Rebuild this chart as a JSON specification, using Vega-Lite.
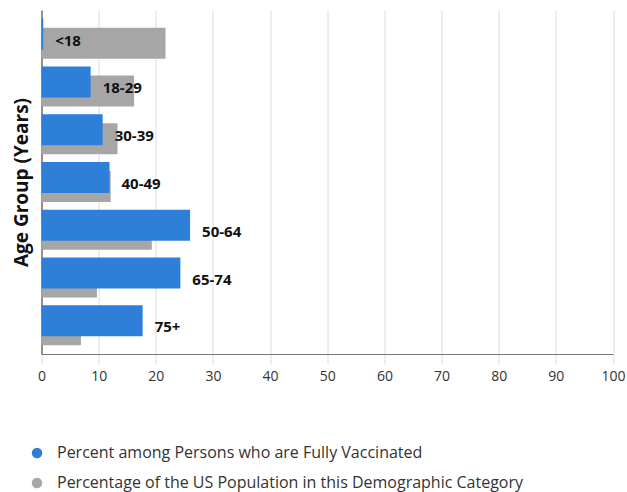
{
  "$schema": "https://vega.github.io/schema/vega-lite/v6.json",
  "autosize": {"type": "none"},
  "padding": {"left": 41.5, "top": 10, "right": 14, "bottom": 138},
  "width": 571.5,
  "height": 344,
  "config": {
    "font": "Open Sans",
    "view": {"stroke": null}
  },
  "data": {
    "values": [
      {"age": "<18", "series": "Percent among Persons who are Fully Vaccinated", "value": 0.3},
      {"age": "18-29", "series": "Percent among Persons who are Fully Vaccinated", "value": 8.6},
      {"age": "30-39", "series": "Percent among Persons who are Fully Vaccinated", "value": 10.7},
      {"age": "40-49", "series": "Percent among Persons who are Fully Vaccinated", "value": 11.9},
      {"age": "50-64", "series": "Percent among Persons who are Fully Vaccinated", "value": 26.0},
      {"age": "65-74", "series": "Percent among Persons who are Fully Vaccinated", "value": 24.3},
      {"age": "75+", "series": "Percent among Persons who are Fully Vaccinated", "value": 17.7},
      {"age": "<18", "series": "Percentage of the US Population in this Demographic Category", "value": 21.7},
      {"age": "18-29", "series": "Percentage of the US Population in this Demographic Category", "value": 16.2},
      {"age": "30-39", "series": "Percentage of the US Population in this Demographic Category", "value": 13.3},
      {"age": "40-49", "series": "Percentage of the US Population in this Demographic Category", "value": 12.1},
      {"age": "50-64", "series": "Percentage of the US Population in this Demographic Category", "value": 19.3},
      {"age": "65-74", "series": "Percentage of the US Population in this Demographic Category", "value": 9.7},
      {"age": "75+", "series": "Percentage of the US Population in this Demographic Category", "value": 6.9}
    ]
  },
  "encoding": {
    "y": {
      "field": "age",
      "type": "nominal",
      "sort": ["<18", "18-29", "30-39", "40-49", "50-64", "65-74", "75+"],
      "scale": {"paddingInner": 0, "paddingOuter": 0.1},
      "axis": {
        "title": "Age Group (Years)",
        "titleFontSize": 19,
        "titleFontWeight": "bold",
        "titleColor": "#111",
        "titlePadding": 10,
        "labels": false,
        "ticks": false,
        "domainColor": "#333",
        "grid": false
      }
    },
    "x": {
      "field": "value",
      "type": "quantitative",
      "scale": {"domain": [0, 100], "nice": false},
      "axis": {
        "title": null,
        "values": [0, 10, 20, 30, 40, 50, 60, 70, 80, 90, 100],
        "grid": true,
        "gridColor": "#dcdcdc",
        "tickColor": "#dcdcdc",
        "tickSize": 10,
        "domainColor": "#777",
        "labelFontSize": 14,
        "labelColor": "#333",
        "labelPadding": 5,
        "labelFlush": false
      }
    }
  },
  "layer": [
    {
      "transform": [{"filter": "datum.series === 'Percentage of the US Population in this Demographic Category'"}],
      "mark": {"type": "bar", "height": 31, "yOffset": 4.5},
      "encoding": {
        "color": {
          "field": "series",
          "type": "nominal",
          "scale": {
            "domain": ["Percent among Persons who are Fully Vaccinated", "Percentage of the US Population in this Demographic Category"],
            "range": ["#2e7fd8", "#a6a6a6"]
          },
          "legend": {
            "title": null,
            "orient": "none",
            "legendX": -12.5,
            "legendY": 435,
            "symbolType": "circle",
            "symbolSize": 110,
            "labelFontSize": 16,
            "labelColor": "#333",
            "labelOffset": 12,
            "rowPadding": 14,
            "labelLimit": 600
          }
        }
      }
    },
    {
      "transform": [{"filter": "datum.series === 'Percent among Persons who are Fully Vaccinated'"}],
      "mark": {"type": "bar", "height": 31, "yOffset": -4.5},
      "encoding": {
        "color": {"field": "series", "type": "nominal"}
      }
    },
    {
      "transform": [{"filter": "datum.series === 'Percent among Persons who are Fully Vaccinated'"}],
      "mark": {"type": "text", "align": "left", "baseline": "middle", "dx": 12, "dy": 2, "fontSize": 15, "fontWeight": "bold", "color": "#111"},
      "encoding": {
        "text": {"field": "age"}
      }
    }
  ]
}
